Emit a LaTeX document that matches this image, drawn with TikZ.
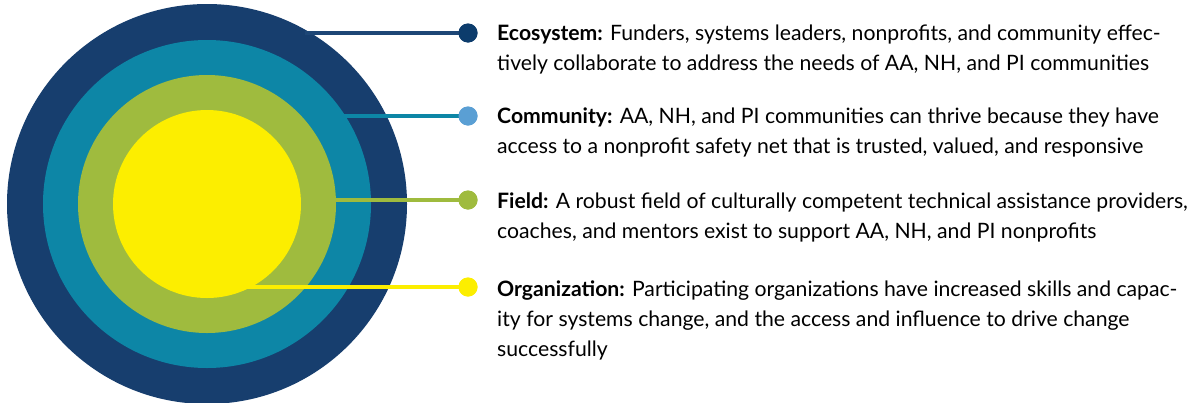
\documentclass[tikz,border=0pt]{standalone}
\usepackage{fontspec}
\setmainfont{Lato}
\definecolor{navy}{HTML}{173E6E}
\definecolor{teal}{HTML}{0D86A6}
\definecolor{leaf}{HTML}{9FBB3E}
\definecolor{sun}{HTML}{FCEE00}
\definecolor{navydot}{HTML}{0C3C6C}
\definecolor{navyline}{HTML}{1D4676}
\definecolor{skydot}{HTML}{5A9FD4}
\begin{document}
\begin{tikzpicture}[x=1pt,y=-1pt,
  ring/.style={circle,inner sep=0pt,draw=none},
  dot/.style={circle,inner sep=0pt,minimum size=19pt},
  link/.style={line width=4pt},
  txt/.style={anchor=base west,inner sep=0pt,font=\fontsize{21.2}{25}\selectfont,text=black}]
\useasboundingbox (0,0) rectangle (1198,402);
\fill[white] (0,0) rectangle (1198,402);
\node[ring,fill=navy,minimum size=400pt] (eco) at (207,204) {};
\node[ring,fill=teal,minimum size=328pt] (com) at (207,204) {};
\node[ring,fill=leaf,minimum size=258pt] (fld) at (207,204) {};
\node[ring,fill=sun,minimum size=188pt] (org) at (207,204) {};
\coordinate (s1) at (305,33);
\coordinate (s2) at (322,116);
\coordinate (s3) at (335,200);
\coordinate (s4) at (238,287);
\node[dot,fill=navydot] (d1) at (468,33) {};
\node[dot,fill=skydot] (d2) at (468,116) {};
\node[dot,fill=leaf] (d3) at (468,200) {};
\node[dot,fill=sun] (d4) at (468,287) {};
\draw[link,navyline] (s1) -- (d1.center);
\draw[link,teal] (s2) -- (d2.center);
\draw[link,leaf] (s3) -- (d3.center);
\draw[link,sun] (s4) -- (d4.center);
\node[dot,fill=navydot] at (d1) {};
\node[dot,fill=skydot] at (d2) {};
\node[dot,fill=leaf] at (d3) {};
\node[dot,fill=sun] at (d4) {};
\node[txt] (t1a) at (497,40) {\textbf{Ecosystem:} Funders, systems leaders, nonprofits, and community effec-};
\node[txt] (t1b) at (497,70) {tively collaborate to address the needs of AA, NH, and PI communities};
\node[txt] (t2a) at (497,123) {\textbf{Community:} AA, NH, and PI communities can thrive because they have};
\node[txt] (t2b) at (497,153) {access to a nonprofit safety net that is trusted, valued, and responsive};
\node[txt] (t3a) at (497,208) {\textbf{Field:} A robust field of culturally competent technical assistance providers,};
\node[txt] (t3b) at (497,238) {coaches, and mentors exist to support AA, NH, and PI nonprofits};
\node[txt] (t4a) at (497,296) {\textbf{Organization:} Participating organizations have increased skills and capac-};
\node[txt] (t4b) at (497,326) {ity for systems change, and the access and influence to drive change};
\node[txt] (t4c) at (497,356) {successfully};
\end{tikzpicture}
\end{document}
